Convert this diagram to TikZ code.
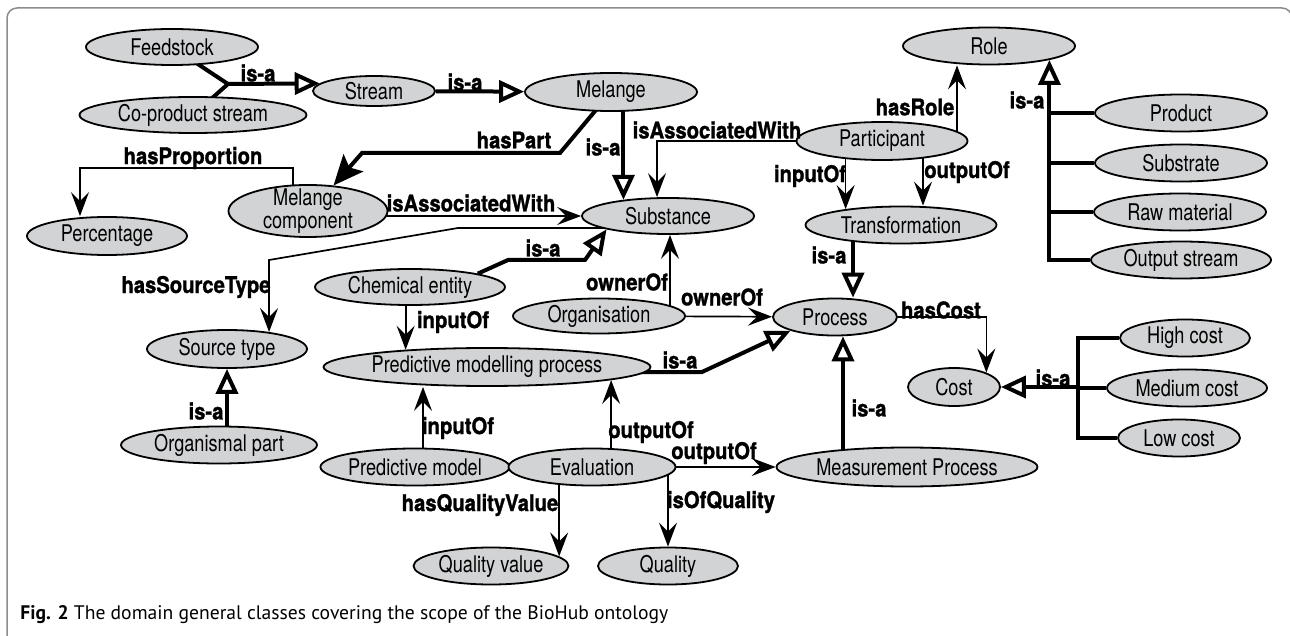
\documentclass[tikz,border=0pt]{standalone}
\usepackage{fontspec}
\usetikzlibrary{shapes.geometric,arrows.meta,backgrounds}

\newfontfamily\clsfamily[FakeStretch=0.79]{TeX Gyre Heros}
\newfontfamily\lblfamily[FakeStretch=0.88,FakeBold=1.2]{TeX Gyre Heros}
\newfontfamily\capfamily{PT Sans}
\definecolor{clsgray}{RGB}{209,211,212}
\definecolor{framegray}{RGB}{140,140,140}

\tikzset{
  cls/.style 2 args={ellipse, draw, fill=clsgray, line width=0.9pt, inner sep=0pt,
    minimum width=#1pt, minimum height=#2pt, align=center,
    font=\clsfamily\fontsize{11.5}{11.5}\selectfont},
  lbl/.style={inner sep=0pt, font=\lblfamily\bfseries\fontsize{11.5}{12}\selectfont},
  rel/.style={line width=0.85pt, -{Stealth[length=12pt,width=9pt,inset=4.5pt]}},
  isa/.style={line width=2pt},
  isatip/.style={-{Triangle[open,length=12.5pt,width=11pt]}},
  parttip/.style={-{Stealth[length=15pt,width=13pt,inset=3pt]}},
}

\begin{document}
\begin{tikzpicture}[x=0.5pt, y=-0.5pt]
\useasboundingbox (0,0) rectangle (1290,636);

% frame
\draw[framegray, line width=0.75pt, rounded corners=5pt] (7,660) -- (7,8) -- (1292,8) -- (1292,660);

% classes
\node[cls={86}{18}] (feed) at (172,47) {Feedstock};
\node[cls={113.5}{18}] (coprod) at (193,115) {Co-product stream};
\node[cls={61}{15}] (stream) at (374,91) {Stream};
\node[cls={86}{19}] (melange) at (611,92) {Melange};
\node[cls={86}{18.5}] (role) at (989,46) {Role};
\node[cls={85.5}{19}] (participant) at (882,141) {Participant};
\node[cls={86}{18.5}] (product) at (1181,113) {Product};
\node[cls={86}{18.5}] (substrate) at (1181,163) {Substrate};
\node[cls={86}{18.5}] (rawmat) at (1180,212) {Raw material};
\node[cls={90}{18.5}] (outstream) at (1181,260) {Output stream};
\node[cls={80}{19}] (percentage) at (107,236) {Percentage};
\node[cls={79.5}{26}, inner ysep=-2pt] (mcomp) at (308,211) {Melange\\component};
\node[cls={86}{18}] (substance) at (668,216) {Substance};
\node[cls={95.5}{18.5}] (transformation) at (901,225) {Transformation};
\node[cls={95}{18}] (chem) at (410,287) {Chemical entity};
\node[cls={80}{19}] (sourcetype) at (227,349) {Source type};
\node[cls={86}{17.5}] (org) at (599,316) {Organisation};
\node[cls={62}{18.5}] (process) at (835,317) {Process};
\node[cls={163.5}{19}] (pmp) at (487,367) {Predictive modelling process};
\node[cls={46}{19}] (cost) at (954,387) {Cost};
\node[cls={65}{18.5}] (highcost) at (1185,338) {High cost};
\node[cls={80}{18.5}] (medcost) at (1187,388) {Medium cost};
\node[cls={61}{18.5}] (lowcost) at (1179,438) {Low cost};
\node[cls={98}{18.5}] (orgpart) at (219,445) {Organismal part};
\node[cls={93}{18.5}] (predmodel) at (415,467) {Predictive model};
\node[cls={83.5}{18.5}] (evaluation) at (592,467) {Evaluation};
\node[cls={130.5}{19.5}] (measurement) at (907,467) {Measurement Process};
\node[cls={77.5}{18.5}] (qualvalue) at (491,566) {Quality value};
\node[cls={70}{18.5}] (quality) at (668,566) {Quality};

% relation labels
\node[lbl] (l-stream) at (258,73) {is-a};
\node[lbl] (l-melange) at (465,82) {is-a};
\node[lbl] (l-haspart) at (514,140) {hasPart};
\node[lbl] (l-subst) at (603,147) {is-a};
\node[lbl] (l-assoc1) at (717,130) {isAssociatedWith};
\node[lbl] (l-assoc2) at (471,203) {isAssociatedWith};
\node[lbl] (l-prop) at (193,158) {hasProportion};
\node[lbl] (l-hasrole) at (915,107) {hasRole};
\node[lbl] (l-role) at (1027,100) {is-a};
\node[lbl] (l-in1) at (810,176) {inputOf};
\node[lbl] (l-out1) at (967,172) {outputOf};
\node[lbl] (l-trans) at (829,255) {is-a};
\node[lbl] (l-chem) at (543,248) {is-a};
\node[lbl] (l-own1) at (627,282) {ownerOf};
\node[lbl] (l-own2) at (722,297) {ownerOf};
\node[lbl] (l-source) at (196,287) {hasSourceType};
\node[lbl] (l-in2) at (453,322) {inputOf};
\node[lbl] (l-cost) at (941,310) {hasCost};
\node[lbl] (l-pmp) at (680,360) {is-a};
\node[lbl] (l-costs) at (1053,378) {is-a};
\node[lbl] (l-meas) at (869,408) {is-a};
\node[lbl] (l-orgpart) at (206,411) {is-a};
\node[lbl] (l-in3) at (458,428) {inputOf};
\node[lbl] (l-out2) at (651,432) {outputOf};
\node[lbl] (l-out3) at (714,453) {outputOf};
\node[lbl] (l-qv) at (480,505) {hasQualityValue};
\node[lbl] (l-q) at (721,502) {isOfQuality};

% caption
\node[anchor=base west, inner sep=0pt, font=\capfamily\fontsize{9.8}{12}\selectfont] (caption) at (20,619)
  {\textbf{Fig. 2} The domain general classes covering the scope of the BioHub ontology};

% connectors, under the classes
\begin{pgfonlayer}{background}
  % is-a links
  \coordinate (j1) at (228,84);
  \draw[isa] (feed.center) -- (j1) -- (coprod.center);
  \draw[isa, isatip] (j1) -- (stream.172);
  \draw[isa, isatip] (stream) -- (melange);
  \draw[isa, isatip] (melange.center -| substance.160) -- (substance.160);
  \draw[isa, isatip] (chem.north east) -- (508,260) -- (585,260) -- (substance.south west);
  \draw[isa, isatip] (transformation.center -| 853,0) -- (853,0 |- process.north);
  \draw[isa, isatip] (pmp.center |- 0,372) -- (702,372) -- (process.south west);
  \draw[isa, isatip] (measurement.center -| 843,0) -- (843,0 |- process.south);
  \draw[isa, isatip] (orgpart.center -| sourcetype) -- (sourcetype.south);
  \draw[isa, isatip] (outstream.west) -| (role.-13);
  \foreach \n in {product,substrate,rawmat}
    \draw[isa] (\n.west) -- (\n.west -| role.-13);
  \coordinate (costbar) at (1078,387);
  \draw[isa, isatip] (costbar) -- (cost.east);
  \draw[isa] (highcost.west) -| (costbar |- lowcost.west) -- (lowcost.west);
  \draw[isa] (medcost.west) -- (costbar |- medcost.west);
  % hasPart
  \draw[isa, parttip] (melange.center) -- (560,153) -- (362,153) -- (mcomp.45);
  % object properties
  \draw[rel] (mcomp.center |- substance.west) -- (substance.west);
  \draw[rel] (mcomp.center -| 293,0) |- (80,168) -- (80,0 |- percentage.north);
  \draw[rel] (substance.center |- 0,228) -- (458,228) -- (sourcetype.22 |- 0,260) -- (sourcetype.22);
  \draw[rel] (participant.west) -| (657,0 |- substance.north);
  \draw[rel] (participant.center -| 957,0) -- (957,0 |- role.south);
  \draw[rel] (participant.center -| transformation.164) -- (transformation.164);
  \draw[rel] (participant.center -| 923,0) -- (923,0 |- transformation.north);
  \draw[rel] (chem.center -| pmp.168) -- (pmp.168);
  \draw[rel] (org.center -| 670,0) -- (670,0 |- substance.south);
  \draw[rel] (org) -- (process);
  \draw[rel] (process.east) -| (cost.24);
  \draw[rel] (predmodel.center -| 423,0) -- (423,0 |- pmp.south);
  \draw[rel] (evaluation.center -| pmp.-6) -- (pmp.-6);
  \draw[rel] (evaluation) -- (measurement);
  \draw[rel] (evaluation.center -| qualvalue.8) -- (qualvalue.8);
  \draw[rel] (evaluation.center -| quality) -- (quality);
\end{pgfonlayer}
\end{tikzpicture}
\end{document}
